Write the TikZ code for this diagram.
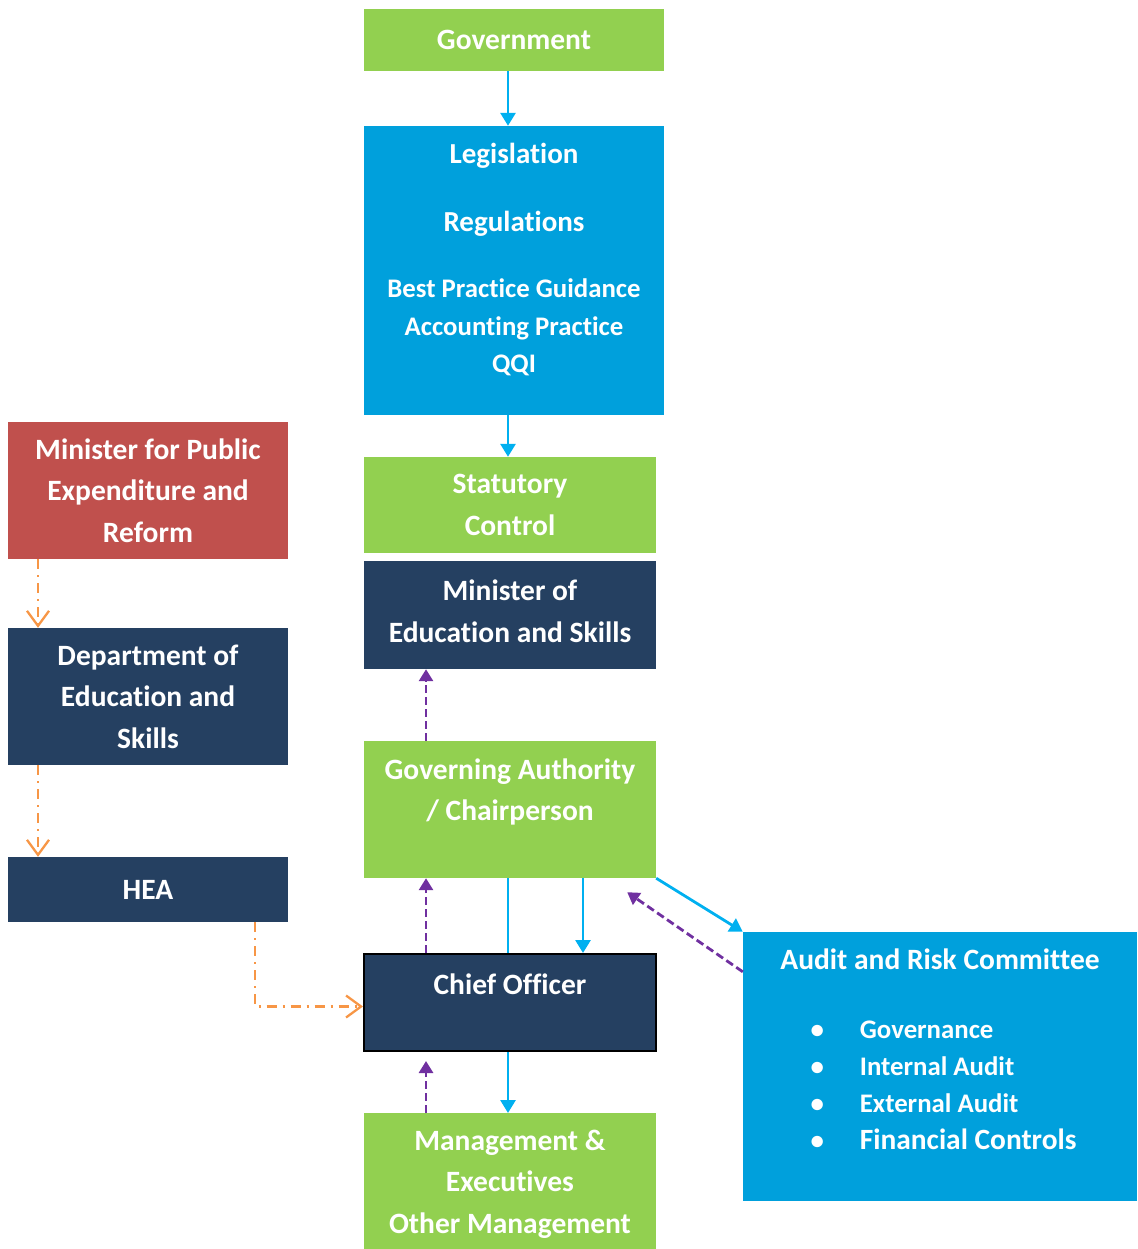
\documentclass[tikz,border=0pt]{standalone}
\usepackage{fontspec}
\setmainfont{Carlito}[Ligatures=NoCommon]
\usepackage{tikz}
\usetikzlibrary{arrows.meta}

\definecolor{grn}{HTML}{92D050}
\definecolor{lblue}{HTML}{00A0DC}
\definecolor{navy}{HTML}{254061}
\definecolor{rust}{HTML}{C0504D}
\definecolor{arrblue}{HTML}{00B0F0}
\definecolor{purp}{HTML}{7030A0}
\definecolor{orng}{HTML}{F79646}

\tikzset{
  box/.style={inner sep=0pt, align=center, text=white, font=\bfseries\fontsize{29.5}{41.5}\selectfont},
  flow/.style={arrblue, line width=2.8pt, -{Triangle[length=13pt,width=15pt]}},
  report/.style={purp, line width=2.8pt, dash pattern=on 8pt off 4pt, -{Triangle[length=12pt,width=14pt]}},
  dept/.style={orng, line width=2.3pt, dash pattern=on 10pt off 6pt on 2pt off 6pt, -{Straight Barb[length=15pt,width=22pt]}},
}

\begin{document}
\begin{tikzpicture}[x=1pt, y=-1pt]
\useasboundingbox (0,0) rectangle (1137,1249);
\node[box, fill=grn, minimum width=300, minimum height=62] (gov) at (514,40) {Government};
\node[box, fill=lblue, minimum width=300, minimum height=289, font=\bfseries\fontsize{26.8}{37.5}\selectfont, text depth=24.5] (leg) at (514,270.5) {{\fontsize{29}{37.5}\selectfont Legislation}\\[30.5pt]{\fontsize{29}{37.5}\selectfont Regulations}\\[28.5pt]Best Practice Guidance\\Accounting Practice\\QQI};
\node[box, fill=grn, minimum width=292, minimum height=96] (stat) at (510,505) {Statutory\\Control};
\node[box, fill=navy, minimum width=292, minimum height=108, text depth=8] (mes) at (510,615) {Minister of\\Education and Skills};
\node[box, fill=grn, minimum width=292, minimum height=137, text depth=39.5] (ga) at (510,809.5) {Governing Authority\\/ Chairperson};
\node[box, fill=navy, draw=black, line width=2pt, minimum width=292, minimum height=97, text depth=36] (co) at (510,1002.5) {Chief Officer};
\node[box, fill=grn, minimum width=292, minimum height=142, anchor=north] (mgt) at (510,1113) {Management \&\\Executives\\Other Management};
\node[box, fill=rust, minimum width=280, minimum height=137] (mper) at (148,490.5) {Minister for Public\\Expenditure and\\Reform};
\node[box, fill=navy, minimum width=280, minimum height=137] (des) at (148,696.5) {Department of\\Education and\\Skills};
\node[box, fill=navy, minimum width=280, minimum height=65] (hea) at (148,889.5) {HEA};
\node[box, fill=lblue, minimum width=394, minimum height=269, text depth=146] (arc) at (940,1066.5) {{\fontsize{29.5}{41}\selectfont Audit and Risk Committee}\\[27pt]\fontsize{26.8}{37}\selectfont\hspace{7pt}\begin{tabular}[t]{@{}l@{\hspace{36pt}}l@{}}
\textbullet & Governance\\
\textbullet & Internal Audit\\
\textbullet & External Audit\\
\textbullet & {\fontsize{29.4}{37}\selectfont Financial Controls}
\end{tabular}};
\draw[flow] ([shift={(-6,0)}]gov.south) -- ([shift={(-6,0)}]leg.north);
\draw[flow] ([shift={(-6,0)}]leg.south) -- ([shift={(-2,0)}]stat.north);
\draw[report] ([shift={(-84,0)}]ga.north) -- ([shift={(-84,0)}]mes.south);
\draw[report] ([shift={(-84,0)}]co.north) -- ([shift={(-84,0)}]ga.south);
\draw[flow, -] ([shift={(-2,0)}]ga.south) -- ([shift={(-2,0)}]co.north);
\draw[flow] ([shift={(73,0)}]ga.south) -- ([shift={(73,0)}]co.north);
\draw[flow] (ga.south east) -- (arc.north west);
\coordinate (garet) at ([shift={(-29,14)}]ga.south east);
\draw[report] ([shift={(0,40)}]arc.north west) -- (garet);
\draw[flow] ([shift={(-2,0)}]co.south) -- ([shift={(-2,0)}]mgt.north);
\draw[report] ([shift={(-84,0)}]mgt.north) -- ([shift={(-84,9)}]co.south);
\draw[dept] ([shift={(-110,0)}]mper.south) -- ([shift={(-110,0)}]des.north);
\draw[dept] ([shift={(-110,0)}]des.south) -- ([shift={(-110,0)}]hea.north);
\draw[dept] ([shift={(107,0)}]hea.south) |- ([shift={(0,4)}]co.west);
\end{tikzpicture}
\end{document}
